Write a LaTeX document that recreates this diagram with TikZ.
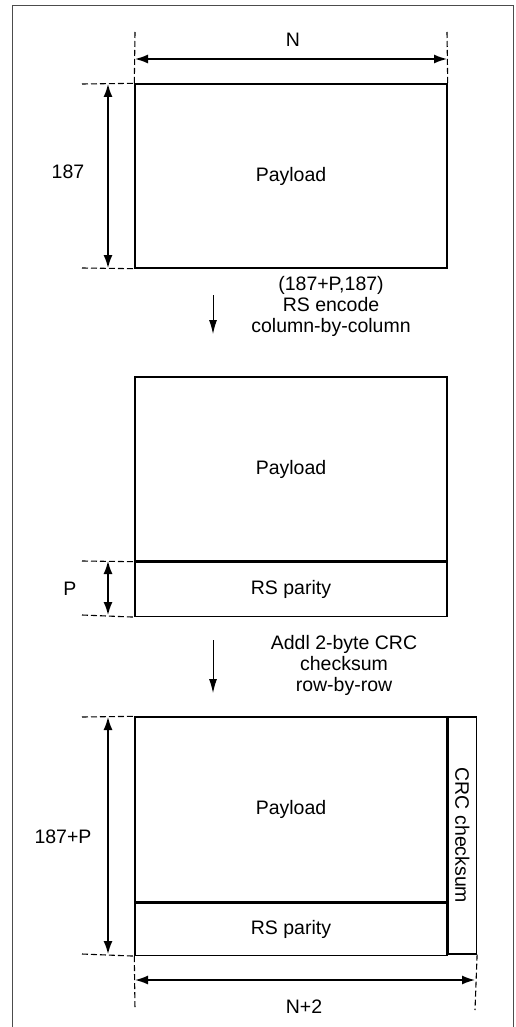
\documentclass[tikz,border=0pt]{standalone}
\usepackage{fontspec}
\setmainfont{Liberation Sans}
\usetikzlibrary{arrows.meta}
\begin{document}
\begin{tikzpicture}[x=1pt,y=-1pt,
  box/.style={draw, line width=1.4pt, inner sep=0pt, font=\fontsize{19.5}{21}\selectfont},
  lbl/.style={inner sep=0pt, font=\fontsize{19.5}{21}\selectfont, align=center},
  dimline/.style={line width=1.5pt, {Latex[length=13pt,width=9pt]}-{Latex[length=13pt,width=9pt]}},
  stepar/.style={line width=1pt, -{Latex[length=14pt,width=8pt]}},
  guide/.style={line width=1.1pt, dash pattern=on 6pt off 3pt}]
\useasboundingbox (0,0) rectangle (516,1027);
% frame
\draw[line width=0.8pt, black!70] (12,1030) -- (12,5) -- (513,5) -- (513,1030);

% ---------- block 1 ----------
\node[box, minimum width=312pt, minimum height=184pt] (b1) at (291,176) {Payload};
\coordinate (n1a) at (135,32);
\coordinate (n1b) at (447,32);
\coordinate (n1l) at (135,59);
\coordinate (n1r) at (447,59);
\draw[guide] (n1a) -- (b1.north west);
\draw[guide] (n1b) -- (b1.north east);
\draw[dimline] (n1l) -- (n1r);
\node[lbl] (lN) at (293,40) {N};
\coordinate (h1t) at (82,84);
\coordinate (h1b) at (82,268);
\draw[guide] (h1t) -- (b1.north west);
\draw[guide] (h1b) -- (b1.south west);
\coordinate (v1t) at (108,84);
\coordinate (v1b) at (108,268);
\draw[dimline] (v1t) -- (v1b);
\node[lbl] (l187) at (68,172) {187};

% ---------- step 1 ----------
\coordinate (s1a) at (213,295);
\coordinate (s1b) at (213,334);
\draw[stepar] (s1a) -- (s1b);
\node[lbl] (t1) at (331,306) {(187+P,187)\\RS encode\\column-by-column};

% ---------- block 2 ----------
\node[box, minimum width=312pt, minimum height=184pt] (b2p) at (291,469) {Payload};
\node[box, minimum width=312pt, minimum height=54pt, anchor=north] (b2r) at (b2p.south) {RS parity};
\coordinate (h2t) at (82,561);
\coordinate (h2b) at (82,615);
\draw[guide] (h2t) -- (b2r.north west);
\draw[guide] (h2b) -- (b2r.south west);
\coordinate (v2t) at (108,561);
\coordinate (v2b) at (108,615);
\draw[dimline] (v2t) -- (v2b);
\node[lbl] (lP) at (70,589) {P};

% ---------- step 2 ----------
\coordinate (s2a) at (213,640);
\coordinate (s2b) at (213,693);
\draw[stepar] (s2a) -- (s2b);
\node[lbl] (t2) at (344,665) {Addl 2-byte CRC\\checksum\\row-by-row};

% ---------- block 3 ----------
\node[box, minimum width=312pt, minimum height=185pt] (b3p) at (291,809.5) {Payload};
\node[box, minimum width=312pt, minimum height=52pt, anchor=north] (b3r) at (b3p.south) {RS parity};
\node[box, minimum width=28pt, minimum height=237pt, anchor=north west] (b3c) at (b3p.north east) {};
\node[lbl, rotate=-90] (crc) at (b3c.center) {CRC checksum};
\coordinate (h3t) at (82,717);
\coordinate (h3b) at (82,954);
\draw[guide] (h3t) -- (b3p.north west);
\draw[guide] (h3b) -- (b3r.south west);
\coordinate (v3t) at (108,717);
\coordinate (v3b) at (108,954);
\draw[dimline] (v3t) -- (v3b);
\node[lbl] (l187P) at (63,837) {187+P};
\coordinate (d3a) at (135,1010);
\coordinate (d3b) at (475,1010);
\draw[guide] (b3r.south west) -- (d3a);
\draw[guide] (b3c.south east) -- (d3b);
\coordinate (d3l) at (135,980);
\coordinate (d3r) at (475,980);
\draw[dimline] (d3l) -- (d3r);
\node[lbl] (lN2) at (304,1007) {N+2};
\end{tikzpicture}
\end{document}
